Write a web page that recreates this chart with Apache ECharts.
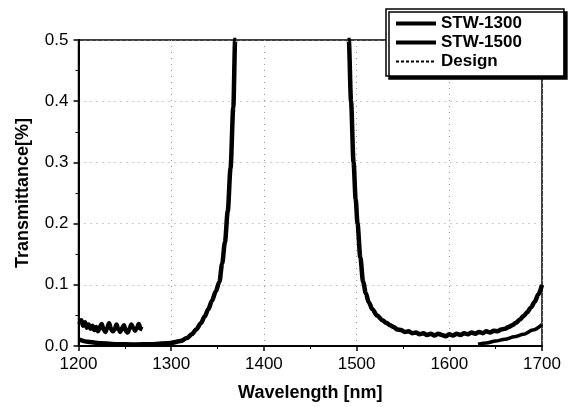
<!DOCTYPE html>
<html>
<head>
<meta charset="utf-8">
<script src="https://cdn.jsdelivr.net/npm/echarts@6/dist/echarts.min.js"></script>
<style>html,body{margin:0;padding:0;background:#fff}#c{width:572px;height:407px}</style>
</head>
<body>
<div id="c"></div>
<script>
// ---- data ----
var xTicks = [1200, 1300, 1400, 1500, 1600, 1700];
var yTicks = [0.0, 0.1, 0.2, 0.3, 0.4, 0.5];
var seriesNames = ['STW-1300', 'STW-1500', 'Design'];

// STW-1300 measured (noisy short segment)
var noiseX = [1201,1203,1205,1207,1209,1211,1213,1215,1217,1219,1221,1223,1225,1227,1229,1231,1233,1235,1237,1239,1241,1243,1245,1247,1249,1251,1253,1255,1257,1259,1261,1263,1265,1267,1269];
var noiseY = [0.036,0.042,0.033,0.039,0.030,0.035,0.028,0.033,0.026,0.031,0.024,0.031,0.036,0.027,0.023,0.030,0.037,0.028,0.024,0.027,0.035,0.027,0.023,0.029,0.034,0.025,0.022,0.028,0.035,0.030,0.025,0.029,0.036,0.028,0.027];

// STW-1300 rising edge
var leftX = [1200,1210,1220,1240,1260,1280,1300,1310,1317,1322,1327,1332,1336,1340,1344,1348,1352,1355,1358,1361,1364,1367,1369,1372];
var leftY = [0.011,0.007,0.005,0.003,0.0025,0.003,0.005,0.008,0.013,0.019,0.027,0.037,0.048,0.060,0.074,0.089,0.105,0.135,0.17,0.22,0.29,0.39,0.5,0.65];

// STW-1500 falling edge
var rightX = [1489,1491.6,1494,1496.7,1499,1501,1504,1507,1510,1513,1517,1522,1528,1532,1536,1540,1544,1548,1552,1556,1560,1564,1568,1572,1576,1580,1584,1588,1592,1596,1600,1604,1608,1612,1616,1620,1624,1628,1632,1636,1640,1644,1648,1652,1656,1660,1664,1668,1672,1676,1680,1684,1688,1692,1696,1700];
var rightY = [0.6,0.5,0.4,0.3,0.24,0.2,0.145,0.105,0.086,0.072,0.06,0.05,0.042,0.038,0.034,0.031,0.027,0.026,0.023,0.024,0.021,0.022,0.019,0.021,0.018,0.020,0.017,0.020,0.018,0.016,0.019,0.017,0.020,0.018,0.021,0.019,0.022,0.020,0.023,0.021,0.024,0.022,0.025,0.024,0.027,0.028,0.031,0.034,0.038,0.043,0.049,0.055,0.063,0.072,0.084,0.1];

// Design (lower right)
var designX = [1631,1640,1650,1660,1670,1680,1690,1700];
var designY = [0.003,0.005,0.008,0.011,0.015,0.019,0.026,0.035];

function pairs(xs, ys){ return xs.map(function(x,i){ return [x, ys[i]]; }); }

var stw1300 = pairs(noiseX, noiseY).concat([[null, null]]).concat(pairs(leftX, leftY));
var stw1500 = pairs(rightX, rightY);
var design = pairs(designX, designY);

var font = 'Liberation Sans, Arial, sans-serif';
var chart = echarts.init(document.getElementById('c'), null, {renderer: 'canvas'});
chart.setOption({
  animation: false,
  backgroundColor: '#fff',
  grid: {left: 78.5, right: 30, top: 40, bottom: 59, show: true, borderColor: '#000', borderWidth: 1.5, backgroundColor: 'transparent'},
  legend: {
    orient: 'vertical',
    left: 386, top: 9,
    padding: [6, 42, 6, 8],
    itemWidth: 40, itemHeight: 17, itemGap: 2,
    backgroundColor: '#fff',
    borderColor: '#000', borderWidth: 1.5,
    shadowColor: '#000', shadowBlur: 0, shadowOffsetX: 3, shadowOffsetY: 3,
    itemStyle: {opacity: 0},
    textStyle: {fontFamily: font, fontWeight: 'bold', fontSize: 17, color: '#000'},
    data: [
      {name: 'STW-1300', lineStyle: {width: 4}},
      {name: 'STW-1500', lineStyle: {width: 4}},
      {name: 'Design', lineStyle: {type: [3, 2], width: 2}}
    ]
  },
  xAxis: {
    type: 'value', min: 1200, max: 1700, interval: 100,
    name: 'Wavelength [nm]', nameLocation: 'middle', nameGap: 38,
    nameTextStyle: {fontFamily: font, fontWeight: 'bold', fontSize: 18, color: '#000'},
    axisLine: {show: true, lineStyle: {color: '#000', width: 2}},
    axisTick: {show: true, length: 5, lineStyle: {color: '#000', width: 1.5}},
    minorTick: {show: true, splitNumber: 2, length: 3, lineStyle: {color: '#000', width: 1}},
    axisLabel: {fontFamily: font, fontSize: 17, color: '#000', margin: 10,
      formatter: function(v){ return xTicks.indexOf(v) >= 0 ? String(v) : ''; }},
    splitLine: {show: true, lineStyle: {color: '#999', width: 1, type: [1, 5]}}
  },
  yAxis: {
    type: 'value', min: 0, max: 0.5, interval: 0.1,
    name: 'Transmittance[%]', nameLocation: 'middle', nameGap: 46,
    nameTextStyle: {fontFamily: font, fontWeight: 'bold', fontSize: 18, color: '#000'},
    axisLine: {show: true, lineStyle: {color: '#000', width: 2}},
    axisTick: {show: true, length: 5, lineStyle: {color: '#000', width: 1.5}},
    minorTick: {show: true, splitNumber: 2, length: 3, lineStyle: {color: '#000', width: 1}},
    axisLabel: {fontFamily: font, fontSize: 17, color: '#000', margin: 10,
      formatter: function(v){ var i = Math.round(v*10); return yTicks[i].toFixed(1); }},
    splitLine: {show: true, lineStyle: {color: '#999', width: 1, type: [1, 5]}}
  },
  series: [
    {name: 'STW-1300', type: 'line', data: stw1300, symbol: 'none', connectNulls: false, clip: true,
      smooth: 0.3, smoothMonotone: 'x',
      lineStyle: {color: '#000', width: 4.5}, itemStyle: {color: '#000'}},
    {name: 'STW-1500', type: 'line', data: stw1500, symbol: 'none', clip: true,
      smooth: 0.3, smoothMonotone: 'x',
      lineStyle: {color: '#000', width: 4.5}, itemStyle: {color: '#000'}},
    {name: 'Design', type: 'line', data: design, symbol: 'none', clip: true,
      smooth: 0.3, smoothMonotone: 'x',
      lineStyle: {color: '#000', width: 3.5}, itemStyle: {color: '#000'}}
  ]
});
</script>
</body>
</html>
